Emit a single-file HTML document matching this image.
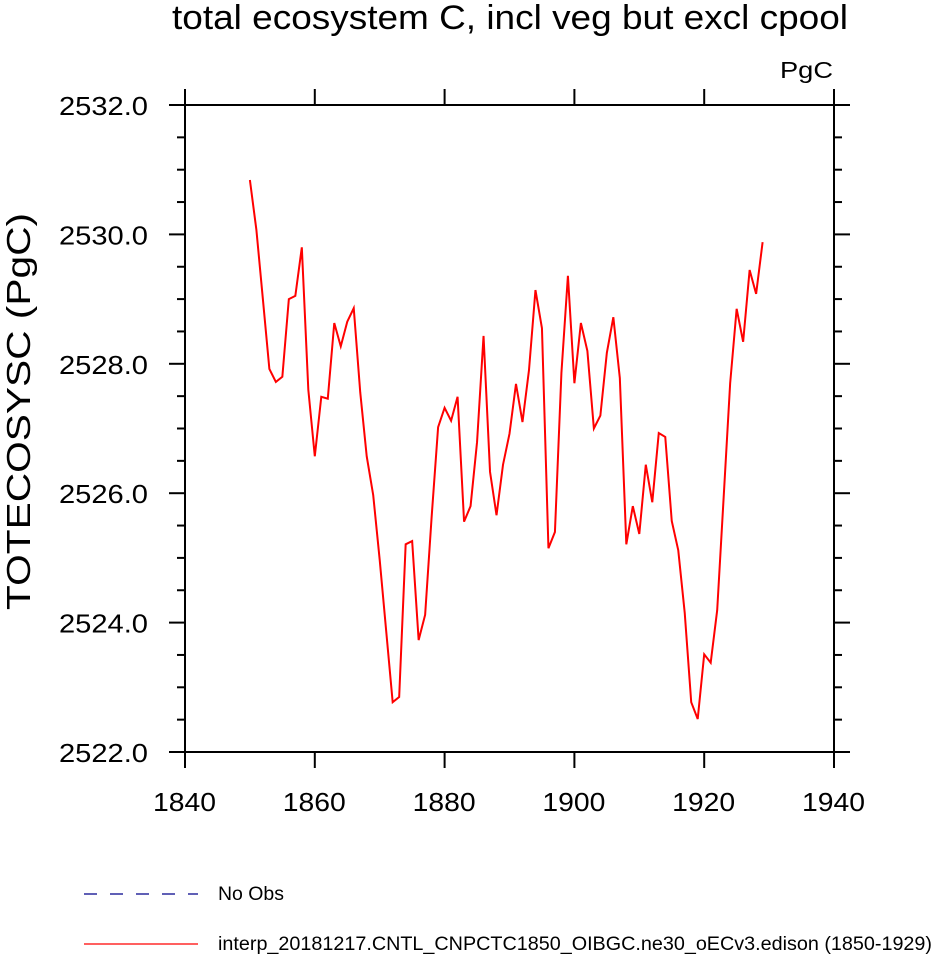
<!DOCTYPE html>
<html><head><meta charset="utf-8"><style>
html,body{margin:0;padding:0;background:#fff;}
svg{display:block;font-family:"Liberation Sans",sans-serif;}
</style></head><body>
<svg width="932" height="957" viewBox="0 0 932 957">
<text x="172" y="29" font-size="34" textLength="676" lengthAdjust="spacingAndGlyphs">total ecosystem C, incl veg but excl cpool</text>
<text x="780" y="78" font-size="23" textLength="53" lengthAdjust="spacingAndGlyphs">PgC</text>
<text transform="translate(30,610) rotate(-90)" font-size="33" textLength="397" lengthAdjust="spacingAndGlyphs">TOTECOSYSC  (PgC)</text>
<g id="axes"></g>
<polyline id="series" fill="none" stroke="#ff0000" stroke-width="2"/>
<g>
<line x1="84" y1="894" x2="198" y2="894" stroke="#00008b" stroke-width="1.2" stroke-dasharray="13,13"/>
<text x="218" y="900" font-size="19" textLength="66" lengthAdjust="spacingAndGlyphs">No Obs</text>
<line x1="84" y1="944" x2="198" y2="944" stroke="#ff0000" stroke-width="1.2"/>
<text x="218" y="950" font-size="19" textLength="714" lengthAdjust="spacingAndGlyphs">interp_20181217.CNTL_CNPCTC1850_OIBGC.ne30_oECv3.edison (1850-1929)</text>
</g>
</svg>
<script>
const years = [];
for (let y = 1850; y <= 1929; y++) years.push(y);
const values = [2530.84,2530.07,2529.0,2527.92,2527.72,2527.8,2529.0,2529.05,2529.8,2527.6,
2526.57,2527.49,2527.46,2528.63,2528.27,2528.65,2528.86,2527.56,2526.57,2525.97,
2524.97,2523.87,2522.77,2522.85,2525.21,2525.26,2523.73,2524.12,2525.63,2527.02,
2527.32,2527.12,2527.49,2525.56,2525.8,2526.79,2528.43,2526.33,2525.66,2526.44,
2526.92,2527.69,2527.1,2527.9,2529.14,2528.55,2525.15,2525.4,2527.86,2529.36,
2527.7,2528.63,2528.2,2527.0,2527.2,2528.17,2528.72,2527.78,2525.21,2525.8,
2525.37,2526.44,2525.86,2526.93,2526.87,2525.57,2525.12,2524.15,2522.77,2522.51,
2523.51,2523.38,2524.19,2525.94,2527.7,2528.85,2528.34,2529.45,2529.08,2529.88];
const xTicks = [1840,1860,1880,1900,1920,1940];
const yTicks = [2522,2524,2526,2528,2530,2532];
const L=185,R=834,T=105,B=752;
const X0=1840,X1=1940,Y0=2522,Y1=2532;
const sx = v => L + (v-X0)/(X1-X0)*(R-L);
const sy = v => B - (v-Y0)/(Y1-Y0)*(B-T);
const NS='http://www.w3.org/2000/svg';
const axes=document.getElementById('axes');
function mk(tag,attrs){const e=document.createElementNS(NS,tag);for(const k in attrs)e.setAttribute(k,attrs[k]);axes.appendChild(e);return e;}
const frame=mk('rect',{x:L,y:T,width:R-L,height:B-T,fill:'none',stroke:'#000','stroke-width':2});


xTicks.forEach(v=>{
  const x=sx(v);
  const t1=mk('line',{x1:x,y1:B,x2:x,y2:B+16,stroke:'#000','stroke-width':2});
  
  
  const t2=mk('line',{x1:x,y1:T,x2:x,y2:T-16,stroke:'#000','stroke-width':2});
  
  
  const lb=mk('text',{x:x-32,y:811,'font-size':26,textLength:63,lengthAdjust:'spacingAndGlyphs'});
  lb.textContent=v;
  
  
});
for(let v=Y0; v<=Y1+1e-9; v+=0.5){
  const major=Math.abs(v-Math.round(v/2)*2)<1e-6;
  const len=major?16:8;const y=sy(v);
  const a=mk('line',{x1:L,y1:y,x2:L-len,y2:y,stroke:'#000','stroke-width':2});
  
  
  const b=mk('line',{x1:R,y1:y,x2:R+len,y2:y,stroke:'#000','stroke-width':2});
  
  
}
yTicks.forEach(v=>{
  const lb=mk('text',{x:59,y:sy(v)+10,'font-size':26,textLength:89,lengthAdjust:'spacingAndGlyphs'});
  lb.textContent=v.toFixed(1);
  
  
});
document.getElementById('series').setAttribute('points',years.map((y,i)=>sx(y)+','+sy(values[i])).join(' '));
</script>
</body></html>
